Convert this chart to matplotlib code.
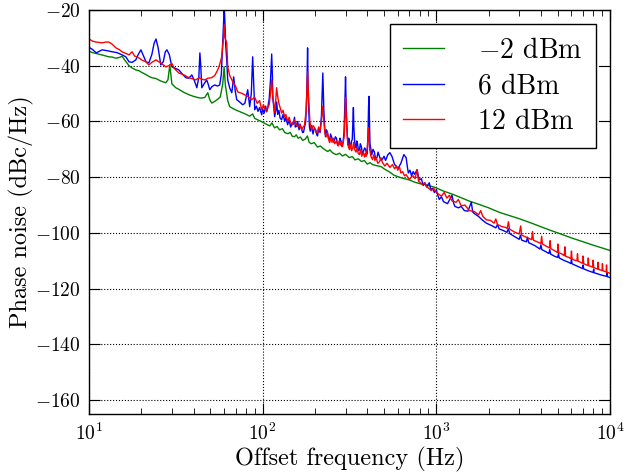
import matplotlib
matplotlib.use("Agg")
import matplotlib.pyplot as plt
from matplotlib.ticker import FixedLocator

plt.rcParams['font.family'] = 'serif'
plt.rcParams['font.serif'] = ['cmr10']
plt.rcParams['mathtext.fontset'] = 'cm'
plt.rcParams['axes.formatter.use_mathtext'] = True

# -2 dBm (green)
f_m2 = [10, 10.5, 11, 11.5, 12, 13, 13.6, 14.3, 15, 15.5,
        16, 17, 17.7, 18.6, 19.4, 20, 21.3, 22.1, 23, 24.3,
        25.9, 27.7, 28.5, 29.2, 30, 31.6, 33, 35, 37.6, 40,
        42.9, 44.6, 46.4, 48.3, 49.6, 50.9, 53, 55.1, 57, 58.9,
        60, 61, 62.9, 64.6, 68, 72, 76.7, 80, 84, 87.6,
        90, 95, 98.7, 105, 110, 113, 117, 121, 125, 130,
        134, 140, 144, 148, 152.6, 156, 160, 165, 170, 176,
        181, 185, 190, 198, 207, 215, 222, 230, 237, 244,
        250, 258, 266, 277, 288, 300, 316, 328, 340, 355,
        371, 385, 400, 415, 430, 455, 481, 500, 520, 545,
        570, 600, 625, 660, 700, 750, 800, 850, 900, 975,
        1100, 1250, 1390, 1550, 1750, 2000, 2300, 2700, 3000, 3500,
        4000, 4500, 5000, 6000, 7000, 8000, 9000, 10000]
p_m2 = [-34.8, -35.3, -35.6, -35.9, -36.2, -36.8, -36.9, -37.3, -37.0, -36.6,
        -37.8, -40.0, -40.8, -41.5, -41.8, -42.3, -43.2, -43.8, -44.3, -44.6,
        -45.5, -46.1, -45.0, -39.7, -46.5, -47.9, -48.5, -49.5, -50.4, -51.0,
        -51.5, -51.6, -51.4, -49.7, -52.2, -53.4, -52.8, -52.0, -51.2, -46.5,
        -40.4, -47.0, -52.5, -54.7, -55.5, -56.2, -56.9, -57.4, -58.1, -57.3,
        -58.9, -59.6, -60.1, -61.0, -61.6, -60.5, -62.3, -61.8, -63.0, -62.6,
        -64.0, -64.4, -63.9, -65.3, -65.5, -64.8, -66.0, -65.6, -66.8, -66.3,
        -65.2, -67.4, -68.0, -67.6, -69.2, -68.8, -69.6, -70.3, -70.8, -70.2,
        -71.0, -71.6, -71.9, -71.4, -72.4, -71.8, -73.0, -72.6, -73.8, -73.4,
        -74.4, -74.0, -75.3, -74.8, -75.5, -75.9, -76.2, -77.0, -77.6, -78.4,
        -79.3, -79.8, -80.2, -80.6, -81.0, -81.8, -82.3, -82.6, -83.0, -83.6,
        -85.0, -86.2, -87.4, -88.6, -89.7, -91.0, -92.6, -94.0, -94.9, -96.4,
        -97.8, -99.0, -100.0, -101.8, -103.2, -104.4, -105.4, -106.3]

# 6 dBm (blue)
f_6 = [10, 10.5, 11, 11.9, 12.7, 13.6, 14.5, 15.5, 16.3, 17,
       17.7, 18.6, 19.2, 19.9, 20.6, 21.3, 22.1, 23.0, 23.7, 24.3,
       25, 25.9, 26.8, 27.5, 28.1, 29, 30, 31.5, 32.9, 34.5,
       36.1, 37.5, 39.1, 40.5, 41.8, 42.9, 43.5, 44.0, 44.6, 46,
       47.6, 48.5, 49.6, 51, 53, 55, 56.6, 57.8, 58.9, 59.6,
       60, 60.6, 61.2, 62.1, 62.9, 64.6, 66.4, 68.1, 69.5, 70.9,
       73, 76.7, 79, 82, 84.2, 86, 87.6, 89, 90, 92,
       94, 96, 98.7, 100, 102, 104, 105.4, 107, 109, 111,
       112.7, 113.8, 114.5, 116, 117.2, 119, 120.5, 122, 124, 126,
       128.5, 131, 134, 136, 139.2, 142, 145, 148, 150, 152.6,
       154, 156, 159, 162, 164, 167, 170, 172, 175, 177,
       179.5, 181.4, 182.7, 184, 186, 188, 191, 195, 198, 202,
       205, 207, 210, 214, 218, 222, 223.5, 225, 228, 230,
       233, 236, 240, 243, 246, 250, 254, 258, 262, 266,
       270, 275, 279, 282, 286, 290, 294, 297, 300, 302,
       304, 307, 310, 313, 316, 319, 322, 325, 328, 331,
       333, 335, 338, 341, 345, 348, 352, 356, 361, 365,
       370, 375, 380, 386, 392, 396, 400, 404, 407, 410,
       412, 415, 420, 425, 432, 440, 447, 455, 462, 470,
       480, 490, 500, 510, 525, 540, 555, 565, 575, 588,
       600, 612, 625, 650, 670, 680, 690, 705, 720, 735,
       750, 775, 790, 800, 820, 840, 860, 880, 910, 930,
       950, 975, 1000, 1020, 1040, 1070, 1100, 1160, 1230, 1260,
       1280, 1340, 1390, 1450, 1520, 1590, 1620, 1650, 1750, 1850,
       1940, 2020, 2100, 2200, 2250, 2300, 2400, 2550, 2600, 2650,
       2800, 3000, 3050, 3100, 3300, 3350, 3400, 3700, 3950, 4000,
       4050, 4200, 4450, 4500, 4550, 4800, 5000, 5050, 5100, 5400,
       5800, 5950, 6000, 6050, 6400, 6950, 7000, 7050, 7500, 8000,
       8050, 8100, 9000, 9550, 9600, 9650, 10000]
p_6 = [-33.4, -34.2, -35.4, -34.3, -34.6, -35.0, -35.3, -36.1, -36.8, -38.6,
       -38.8, -37.9, -36.0, -34.3, -36.5, -38.6, -39.0, -36.0, -32.0, -30.4,
       -33.5, -39.7, -38.5, -35.0, -34.3, -36.0, -40.4, -41.0, -41.5, -43.0,
       -44.3, -44.5, -43.3, -45.5, -47.9, -44.0, -35.4, -40.0, -47.9, -46.5,
       -45.1, -46.5, -48.6, -47.5, -46.9, -47.3, -46.9, -43.0, -31.8, -24.0,
       -18.0, -24.0, -32.0, -37.9, -45.1, -48.0, -49.7, -44.0, -49.0, -52.2,
       -52.8, -54.0, -53.5, -48.6, -54.7, -50.0, -36.8, -48.0, -55.8, -54.5,
       -56.4, -55.0, -57.6, -55.5, -57.0, -54.5, -56.5, -55.0, -52.0, -45.0,
       -35.8, -44.0, -52.0, -55.0, -58.3, -56.0, -53.0, -57.5, -56.0, -58.8,
       -59.4, -57.5, -60.0, -58.5, -61.2, -59.5, -62.0, -60.5, -61.0, -58.5,
       -62.0, -61.8, -60.0, -63.0, -61.0, -62.5, -64.0, -63.8, -61.5, -60.0,
       -50.0, -33.6, -48.0, -55.0, -62.0, -63.5, -61.5, -64.5, -62.5, -63.0,
       -64.8, -65.2, -62.5, -64.0, -58.0, -42.6, -50.0, -56.0, -63.0, -65.5,
       -63.0, -64.0, -66.5, -66.5, -64.5, -65.8, -67.0, -67.5, -65.5, -66.0,
       -68.5, -68.0, -66.0, -67.0, -69.0, -67.8, -64.0, -55.0, -44.0, -52.0,
       -58.0, -65.0, -68.5, -66.0, -67.2, -69.5, -69.0, -67.0, -66.5, -60.0,
       -55.0, -62.0, -66.5, -69.0, -69.5, -67.0, -68.0, -70.5, -70.2, -68.0,
       -69.0, -71.5, -71.0, -69.5, -70.0, -72.0, -71.5, -65.0, -55.0, -51.0,
       -60.0, -68.0, -70.0, -72.0, -70.0, -71.0, -73.5, -73.0, -71.0, -72.5,
       -74.0, -73.5, -72.5, -74.0, -72.0, -71.2, -72.5, -74.0, -75.5, -76.0,
       -77.0, -76.0, -75.0, -71.9, -73.0, -76.0, -78.5, -77.5, -79.5, -78.0,
       -79.0, -77.3, -80.0, -81.0, -80.5, -83.0, -82.0, -83.5, -82.0, -84.5,
       -84.0, -85.5, -84.5, -86.5, -88.0, -87.0, -88.8, -89.5, -86.5, -89.5,
       -90.5, -91.0, -90.5, -92.0, -92.2, -89.0, -92.5, -93.0, -94.1, -95.5,
       -96.5, -97.0, -97.5, -98.2, -97.0, -98.6, -99.0, -99.8, -98.5, -100.3,
       -101.2, -102.3, -100.8, -102.6, -103.2, -101.5, -103.5, -104.6, -105.8, -104.3,
       -106.0, -106.5, -107.4, -106.0, -107.6, -108.4, -108.8, -107.4, -109.0, -109.8,
       -110.6, -111.0, -109.6, -111.1, -111.8, -112.8, -111.5, -112.9, -113.6, -114.2,
       -113.0, -114.3, -115.2, -115.6, -114.5, -115.7, -116.0]

# 12 dBm (red)
f_12 = [10, 10.5, 11, 11.9, 12.5, 13, 13.6, 14.3, 15, 15.5,
        16.3, 17, 17.7, 18.3, 19.4, 20.2, 21.3, 22.1, 23, 24.3,
        25.1, 25.9, 27.7, 28.8, 30, 31, 32.9, 35.2, 37.6, 39,
        41.2, 43, 44.6, 46.4, 48.3, 50.9, 53, 55.1, 56.6, 58.1,
        59.3, 60, 60.7, 62.1, 62.9, 64.6, 67.3, 70, 71.8, 75,
        78.8, 82, 86.5, 90, 93, 96, 98.7, 101, 103, 105.4,
        107, 109, 111, 112.7, 114, 115, 117.2, 119, 120.3, 122,
        124, 126, 128.5, 131, 133.7, 136, 139.2, 142, 145, 148.7,
        152, 155, 158, 160, 164, 167.5, 171, 174, 178, 180,
        181.4, 182.7, 184, 187, 191, 195, 200, 203, 207, 210,
        214, 218, 221, 223, 225, 228, 232, 236, 240, 243,
        247, 251, 255, 260, 266, 272, 276, 280, 284, 288,
        292, 295, 298, 300, 302, 305, 309, 312, 316, 320,
        325, 330, 334, 338, 345, 350, 355, 361, 366, 372,
        380, 386, 390, 395, 400, 404, 407, 410, 413, 420,
        429, 436, 443, 450, 460, 470, 480, 490, 505, 520,
        540, 559, 575, 590, 600, 613, 625, 640, 655, 670,
        685, 700, 715, 735, 755, 775, 790, 810, 830, 855,
        877, 905, 935, 965, 1000, 1070, 1110, 1150, 1190, 1230,
        1300, 1340, 1390, 1460, 1550, 1650, 1750, 1800, 1850, 1940,
        2050, 2150, 2200, 2250, 2400, 2500, 2560, 2600, 2640, 2800,
        3000, 3060, 3100, 3300, 3540, 3580, 3620, 3800, 4000, 4040,
        4080, 4300, 4480, 4520, 4560, 4800, 4980, 5020, 5060, 5300,
        5450, 5500, 5550, 5800, 5950, 6000, 6050, 6250, 6450, 6500,
        6550, 6750, 6950, 7000, 7050, 7250, 7450, 7500, 7550, 7750,
        7950, 8000, 8050, 8250, 8500, 8550, 8600, 8800, 9000, 9050,
        9100, 9300, 9500, 9550, 9600, 10000]
p_12 = [-30.4, -31.2, -31.5, -31.8, -31.5, -31.5, -32.3, -33.6, -34.3, -35.0,
        -35.6, -36.1, -35.0, -36.5, -37.2, -38.0, -38.6, -39.7, -38.8, -37.9,
        -38.5, -39.0, -40.4, -40.0, -39.2, -41.0, -42.6, -43.3, -44.3, -44.6,
        -45.1, -44.3, -44.8, -45.1, -44.5, -44.3, -43.5, -41.5, -39.5, -36.8,
        -31.0, -25.4, -30.0, -31.8, -40.4, -43.5, -45.8, -47.5, -49.4, -49.8,
        -50.4, -51.0, -52.2, -51.3, -53.5, -52.5, -55.8, -54.0, -55.3, -56.5,
        -55.0, -54.0, -50.0, -45.1, -50.0, -52.0, -56.9, -52.0, -47.9, -51.0,
        -53.5, -55.0, -57.0, -56.0, -58.3, -57.5, -60.0, -58.5, -60.5, -61.2,
        -59.5, -60.5, -61.5, -62.0, -61.0, -63.0, -62.0, -61.5, -56.0, -48.0,
        -42.2, -47.0, -52.0, -60.0, -63.0, -61.5, -62.5, -64.0, -64.0, -62.0,
        -63.2, -60.0, -54.7, -57.0, -60.0, -64.0, -65.5, -64.0, -66.5, -67.6,
        -66.0, -67.5, -66.0, -68.0, -67.0, -68.8, -67.0, -68.5, -67.2, -69.0,
        -67.0, -65.0, -58.0, -51.5, -56.0, -62.0, -68.0, -69.2, -70.1, -68.0,
        -70.5, -69.5, -67.5, -70.0, -71.0, -69.5, -71.5, -71.9, -70.0, -72.5,
        -71.0, -72.8, -71.5, -72.5, -70.0, -66.0, -62.2, -66.0, -70.0, -72.5,
        -73.7, -72.0, -74.0, -73.0, -75.0, -74.5, -73.0, -74.8, -76.0, -75.0,
        -76.5, -75.5, -77.0, -76.0, -77.5, -76.2, -78.5, -78.0, -79.5, -79.1,
        -80.0, -80.9, -80.0, -79.5, -80.5, -77.3, -81.5, -82.0, -82.7, -82.0,
        -83.4, -84.0, -84.8, -84.0, -85.5, -86.8, -85.5, -87.5, -86.5, -88.5,
        -89.0, -88.0, -90.3, -90.0, -92.0, -92.3, -93.5, -92.0, -94.0, -95.3,
        -95.5, -96.5, -95.0, -97.0, -97.8, -98.0, -98.4, -96.0, -98.6, -99.6,
        -100.4, -97.5, -100.8, -101.6, -102.4, -99.5, -102.6, -103.2, -103.8, -101.2,
        -104.0, -104.8, -105.4, -102.8, -105.6, -106.4, -107.0, -104.0, -107.1, -107.6,
        -108.2, -105.0, -108.4, -108.8, -109.3, -106.5, -109.4, -109.8, -110.0, -107.5,
        -110.2, -110.5, -110.9, -108.3, -111.0, -111.4, -111.7, -109.0, -111.8, -112.0,
        -112.3, -109.8, -112.4, -112.7, -113.0, -110.5, -113.1, -113.3, -113.5, -111.0,
        -113.6, -113.8, -114.0, -111.5, -114.1, -114.5]

series_labels = [r'$-2$ dBm', '6 dBm', '12 dBm']

fig = plt.figure(figsize=(6.26, 4.72), dpi=100)
ax = fig.add_axes([89 / 626, 1 - 414 / 472, 521 / 626, 404 / 472])

ax.semilogx(f_m2, p_m2, color=(0, 0.5, 0), lw=1.0, label=series_labels[0])
ax.semilogx(f_6, p_6, color=(0, 0, 1), lw=1.0, label=series_labels[1])
ax.semilogx(f_12, p_12, color=(1, 0, 0), lw=1.0, label=series_labels[2])

ax.set_xlim(10, 1e4)
ax.set_ylim(-165, -20)
ax.yaxis.set_major_locator(FixedLocator([-160, -140, -120, -100, -80, -60, -40, -20]))
ax.grid(True, which='major', color='k', linestyle=':', linewidth=0.8)

ax.tick_params(which='both', direction='in', top=True, right=True, labelsize=14, pad=6)
ax.tick_params(which='major', length=8, width=0.8)
ax.tick_params(which='minor', length=4, width=0.6)
for s in ax.spines.values():
    s.set_linewidth(1.0)

ax.set_xlabel('Offset frequency (Hz)', fontsize=17.5, labelpad=2)
ax.set_ylabel('Phase noise (dBc/Hz)', fontsize=17.5, labelpad=1)

leg = ax.legend(loc='upper right', fontsize=20, handlelength=1.47, handletextpad=1.2,
                labelspacing=0.32, borderpad=0.5, borderaxespad=0.5, fancybox=False)
leg.get_frame().set_edgecolor('k')
leg.get_frame().set_linewidth(1.0)
leg.get_frame().set_alpha(1.0)

fig.savefig('out.png', dpi=100)
